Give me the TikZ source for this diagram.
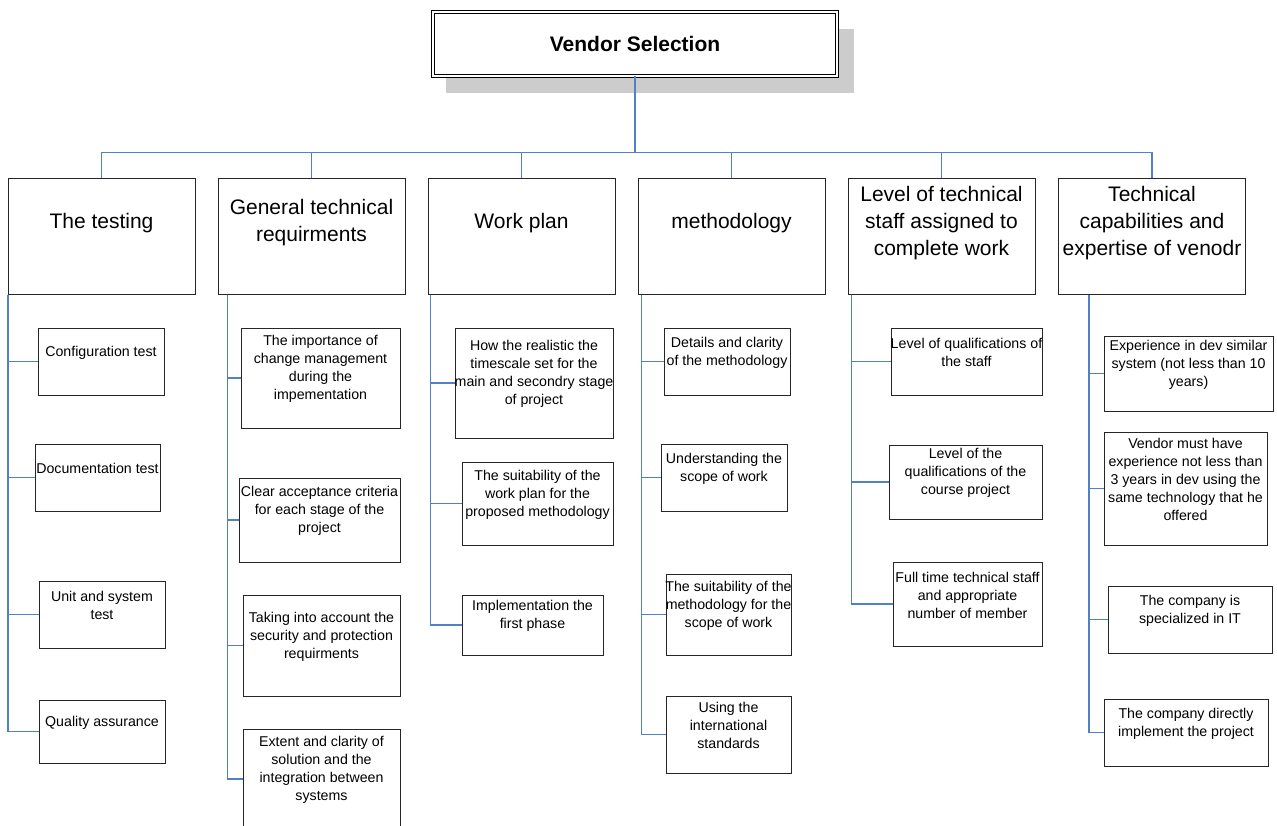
\documentclass[tikz,border=0pt]{standalone}
\usepackage{fontspec}
\setmainfont{Liberation Sans}
\usepackage{tikz}
\usetikzlibrary{shadows}
\definecolor{linkblue}{RGB}{79,129,196}

\begin{document}
\begin{tikzpicture}[x=1pt,y=-1pt,
    hbox/.style={draw=black!85, line width=1pt, minimum width=187pt, minimum height=116pt},
    htxt/.style={font=\fontsize{21}{27}\selectfont, align=center, inner sep=0pt},
    sbox/.style 2 args={draw=black!85, line width=1pt, minimum width=#1pt, minimum height=#2pt},
    stxt/.style={font=\fontsize{14.2}{18}\selectfont, align=center, inner sep=0pt},
    link/.style={draw=linkblue, line width=1.3pt}]
    \useasboundingbox (0,0) rectangle (1277,825);

    % Top box
    \node[draw=black, line width=0.8pt, double, double distance=2pt,
          minimum width=404pt, minimum height=64pt, fill=white,
          drop shadow={shadow xshift=15pt, shadow yshift=-17pt, shadow scale=1.01, fill=black!20, opacity=1},
          font=\bfseries\fontsize{21}{25}\selectfont] (vs) at (635,44) {Vendor Selection};

    % Criteria headers
    \node[hbox] (h1) at (101.5,236) {};
    \node[hbox] (h2) at (311.5,236) {};
    \node[hbox] (h3) at (521.5,236) {};
    \node[hbox] (h4) at (731.5,236) {};
    \node[hbox] (h5) at (941.5,236) {};
    \node[hbox] (h6) at (1152,236) {};
    \node[htxt] (h1t) at ([yshift=13pt]h1.center) {The testing};
    \node[htxt] (h2t) at ([yshift=13pt]h2.center) {General technical\\requirments};
    \node[htxt] (h3t) at ([yshift=13pt]h3.center) {Work plan};
    \node[htxt] (h4t) at ([yshift=13pt]h4.center) {methodology};
    \node[htxt] (h5t) at ([yshift=13pt]h5.center) {Level of technical\\staff assigned to\\complete work};
    \node[htxt] (h6t) at ([yshift=13pt]h6.center) {Technical\\capabilities and\\expertise of venodr};

    % The testing
    \node[sbox={126}{67}] (s11) at (101,361.5) {};
    \node[sbox={125}{67}] (s12) at (97.5,477.5) {};
    \node[sbox={126}{67}] (s13) at (102,614.5) {};
    \node[sbox={126}{63}] (s14) at (102,731.5) {};
    \node[stxt] (s11t) at ([yshift=9pt]s11.center) {Configuration test};
    \node[stxt] (s12t) at ([yshift=9pt]s12.center) {Documentation test};
    \node[stxt] (s13t) at ([yshift=9pt]s13.center) {Unit and system\\test};
    \node[stxt] (s14t) at ([yshift=9pt]s14.center) {Quality assurance};

    % General technical requirments
    \node[sbox={159}{100}] (s21) at (320.5,378) {};
    \node[sbox={161}{84}] (s22) at (319.5,520) {};
    \node[sbox={157}{101}] (s23) at (321.5,645.5) {};
    \node[sbox={157}{100}] (s24) at (321.5,779) {};
    \node[stxt] (s21t) at ([yshift=9pt]s21.center) {The importance of\\change management\\during the\\impementation};
    \node[stxt] (s22t) at ([yshift=9pt]s22.center) {Clear acceptance criteria\\for each stage of the\\project};
    \node[stxt] (s23t) at ([yshift=9pt]s23.center) {Taking into account the\\security and protection\\requirments};
    \node[stxt] (s24t) at ([yshift=9pt]s24.center) {Extent and clarity of\\solution and the\\integration between\\systems};

    % Work plan
    \node[sbox={158}{110}] (s31) at (534,383) {};
    \node[sbox={151}{83}] (s32) at (537.5,503.5) {};
    \node[sbox={141}{60}] (s33) at (532.5,625) {};
    \node[stxt] (s31t) at ([yshift=9pt]s31.center) {How the realistic the\\timescale set for the\\main and secondry stage\\of project};
    \node[stxt] (s32t) at ([yshift=9pt]s32.center) {The suitability of the\\work plan for the\\proposed methodology};
    \node[stxt] (s33t) at ([yshift=9pt]s33.center) {Implementation the\\first phase};

    % methodology
    \node[sbox={126}{67}] (s41) at (727,361.5) {};
    \node[sbox={126}{67}] (s42) at (724,477.5) {};
    \node[sbox={125}{81}] (s43) at (728.5,614.5) {};
    \node[sbox={125}{77}] (s44) at (728.5,734.5) {};
    \node[stxt] (s41t) at ([yshift=9pt]s41.center) {Details and clarity\\of the methodology};
    \node[stxt] (s42t) at ([yshift=9pt]s42.center) {Understanding the\\scope of work};
    \node[stxt] (s43t) at ([yshift=9pt]s43.center) {The suitability of the\\methodology for the\\scope of work};
    \node[stxt] (s44t) at ([yshift=9pt]s44.center) {Using the\\international\\standards};

    % Level of technical staff
    \node[sbox={151}{67}] (s51) at (966.5,361.5) {};
    \node[sbox={153}{74}] (s52) at (965.5,482) {};
    \node[sbox={149}{84}] (s53) at (967.5,604) {};
    \node[stxt] (s51t) at ([yshift=9pt]s51.center) {Level of qualifications of\\the staff};
    \node[stxt] (s52t) at ([yshift=9pt]s52.center) {Level of the\\qualifications of the\\course project};
    \node[stxt] (s53t) at ([yshift=9pt]s53.center) {Full time technical staff\\and appropriate\\number of member};

    % Technical capabilities
    \node[sbox={169}{75}] (s61) at (1188.5,373.5) {};
    \node[sbox={163}{113}] (s62) at (1185.5,488.5) {};
    \node[sbox={164}{67}] (s63) at (1190,619.5) {};
    \node[sbox={164}{67}] (s64) at (1186,732.5) {};
    \node[stxt] (s61t) at ([yshift=9pt]s61.center) {Experience in dev similar\\system (not less than 10\\years)};
    \node[stxt] (s62t) at ([yshift=9pt]s62.center) {Vendor must have\\experience not less than\\3 years in dev using the\\same technology that he\\offered};
    \node[stxt] (s63t) at ([yshift=9pt]s63.center) {The company is\\specialized in IT};
    \node[stxt] (s64t) at ([yshift=9pt]s64.center) {The company directly\\implement the project};

    % Connectors
    \foreach \i in {1,...,6}
        \draw[link] (vs.south) -- ++(0,76) -| (h\i.north);
    \foreach \s in {s11,s12,s13,s14}
        \draw[link] ([xshift=0.5pt]h1.south west) |- (\s.west);
    \foreach \s in {s21,s22,s23,s24}
        \draw[link] ([xshift=10pt]h2.south west) |- (\s.west);
    \foreach \s in {s31,s32,s33}
        \draw[link] ([xshift=3pt]h3.south west) |- (\s.west);
    \foreach \s in {s41,s42,s43,s44}
        \draw[link] ([xshift=4pt]h4.south west) |- (\s.west);
    \foreach \s in {s51,s52,s53}
        \draw[link] ([xshift=4pt]h5.south west) |- (\s.west);
    \foreach \s in {s61,s62,s63,s64}
        \draw[link] ([xshift=31pt]h6.south west) |- (\s.west);
\end{tikzpicture}
\end{document}
